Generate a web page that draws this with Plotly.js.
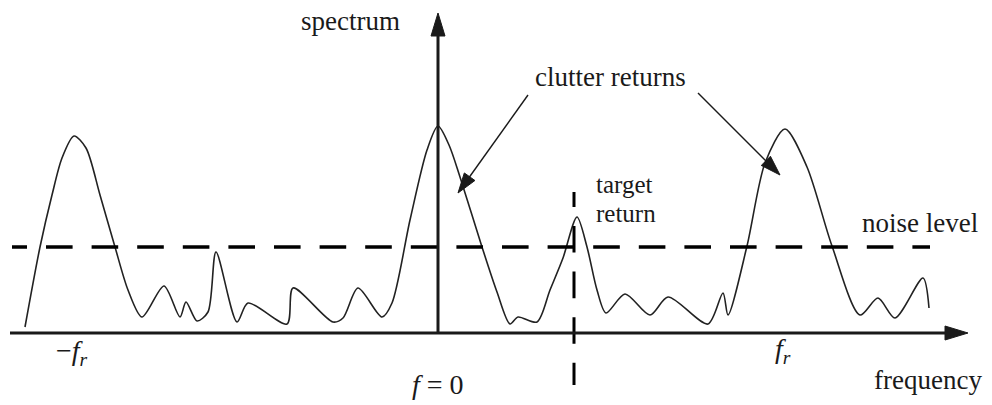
<!DOCTYPE html>
<html>
<head>
<meta charset="utf-8">
<script src="https://cdn.plot.ly/plotly-3.0.1.min.js"></script>
<style>
  html, body { margin: 0; padding: 0; background: #fff; }
  #chart { width: 992px; height: 405px; }
</style>
</head>
<body>
<div id="chart"></div>
<script>
// Received spectrum versus frequency (arbitrary units, f = 0 at the origin)
const freq = [
  -4.13, -3.98, -3.86, -3.76, -3.64, -3.52, -3.38, -3.23, -3.10, -2.96,
  -2.74, -2.58, -2.52, -2.41, -2.30, -2.22, -2.01, -1.90, -1.51, -1.45,
  -1.05, -0.95, -0.80, -0.56, -0.46, -0.28, -0.11, 0.00, 0.11, 0.22,
  0.44, 0.59, 0.72, 0.80, 0.99, 1.12, 1.25, 1.39, 1.49, 1.59,
  1.68, 1.87, 2.12, 2.30, 2.70, 2.85, 2.90, 3.09, 3.27, 3.47,
  3.69, 3.94, 4.22, 4.40, 4.57, 4.85, 4.91
];
const spectrum = [
  0.06, 0.86, 1.38, 1.75, 1.97, 1.85, 1.38, 0.86, 0.43, 0.16,
  0.47, 0.16, 0.31, 0.12, 0.21, 0.81, 0.11, 0.30, 0.09, 0.45,
  0.11, 0.15, 0.45, 0.16, 0.30, 1.13, 1.83, 2.07, 1.88, 1.56,
  0.86, 0.41, 0.09, 0.16, 0.11, 0.43, 0.75, 1.16, 0.86, 0.43,
  0.20, 0.39, 0.18, 0.36, 0.09, 0.40, 0.18, 0.87, 1.70, 2.04,
  1.66, 0.87, 0.18, 0.35, 0.15, 0.55, 0.25
];

// Noise threshold and its horizontal extent
const noiseLevel = 0.86;
const noiseSpan = [-4.26, 4.92];

// Frequency of the target return and the extent of its marker line
const targetFreq = 1.36;
const targetSpan = [1.41, -0.52];

// Axis extents
const xAxisSpan = [-4.28, 5.30];
const yAxisTop = 3.20;

// Callout arrows for the clutter returns: [tailX, tailY, tipX, tipY]
const clutterArrows = [
  [0.90, 2.38, 0.20, 1.40],
  [2.60, 2.40, 3.42, 1.58]
];

const serif = "Liberation Serif, Times New Roman, serif";
const ink = "#1a1a1a";

// Filled triangular arrowhead pointing from (fx,fy) to (tx,ty)
function headPath(fx, fy, tx, ty, len, half) {
  const dx = tx - fx, dy = ty - fy;
  const d = Math.hypot(dx, dy);
  const ux = dx / d, uy = dy / d;
  const bx = tx - ux * len, by = ty - uy * len;
  const px = -uy * half, py = ux * half;
  return `M${tx},${ty} L${bx + px},${by + py} L${bx - px},${by - py} Z`;
}
function shaftEnd(fx, fy, tx, ty, back) {
  const dx = tx - fx, dy = ty - fy;
  const d = Math.hypot(dx, dy);
  return [tx - dx / d * back, ty - dy / d * back];
}

const shapes = [];
function arrow(fx, fy, tx, ty, width, len, half) {
  const [ex, ey] = shaftEnd(fx, fy, tx, ty, len * 0.8);
  shapes.push({type: "line", xref: "x", yref: "y", x0: fx, y0: fy, x1: ex, y1: ey,
               line: {color: ink, width: width}});
  shapes.push({type: "path", xref: "x", yref: "y", path: headPath(fx, fy, tx, ty, len, half),
               fillcolor: ink, line: {color: ink, width: 1}});
}

// frequency and spectrum axes
arrow(xAxisSpan[0], 0, xAxisSpan[1], 0, 3, 0.23, 0.07);
arrow(0, 0, 0, yAxisTop, 3, 0.23, 0.07);
// clutter callouts
clutterArrows.forEach(a => arrow(a[0], a[1], a[2], a[3], 1.4, 0.20, 0.065));

// dash pattern of the noise line: a short first dash, then a regular rhythm
let noiseDash = "15px,19px";
for (let i = 0; i < 25; i++) noiseDash += ",26.6px,19px";

const traces = [
  {
    x: freq, y: spectrum, type: "scatter", mode: "lines",
    line: {color: "#222", width: 1.6, shape: "spline", smoothing: 0.8},
    hoverinfo: "skip"
  },
  {
    x: noiseSpan, y: [noiseLevel, noiseLevel], type: "scatter", mode: "lines",
    line: {color: "#000", width: 3.5, dash: noiseDash},
    hoverinfo: "skip"
  },
  {
    x: [targetFreq, targetFreq], y: targetSpan, type: "scatter", mode: "lines",
    line: {color: "#000", width: 3, dash: "15px,19px,26.6px,19px,26.6px,19px,26.6px,19px,26.6px,19px"},
    hoverinfo: "skip"
  }
];

function label(text, x, y, size, anchor) {
  return {text: text, x: x, y: y, xref: "x", yref: "y", showarrow: false,
          xanchor: anchor || "center", yanchor: "middle", borderpad: 0,
          font: {family: serif, size: size, color: ink}};
}

const annotations = [
  label("spectrum", -0.88, 3.12, 27),
  label("clutter returns", 1.72, 2.56, 27),
  label("target", 1.86, 1.49, 25),
  label("return", 1.88, 1.20, 25),
  label("noise level", 4.82, 1.10, 27),
  label("\u2212<i>f<sub>r</sub></i>", -3.66, -0.19, 28),
  label("<i>f</i> = 0", 0.0, -0.51, 28),
  label("<i>f<sub>r</sub></i>", 3.45, -0.17, 28),
  label("frequency", 4.90, -0.47, 27)
];

const layout = {
  width: 992, height: 405,
  margin: {l: 0, r: 0, t: 0, b: 0},
  paper_bgcolor: "#fff", plot_bgcolor: "#fff",
  showlegend: false,
  xaxis: {range: [-4.38, 5.54], visible: false, fixedrange: true},
  yaxis: {range: [-0.72, 3.33], visible: false, fixedrange: true},
  shapes: shapes,
  annotations: annotations
};

Plotly.newPlot("chart", traces, layout, {staticPlot: true});
</script>
</body>
</html>
